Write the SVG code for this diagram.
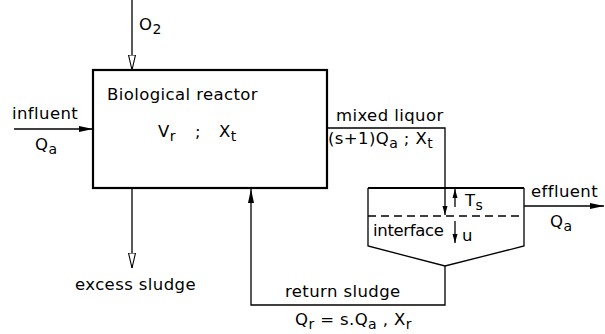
<svg xmlns="http://www.w3.org/2000/svg" width="605" height="334" viewBox="0 0 605 334">
<defs>
<marker id="af" markerWidth="15" markerHeight="8" refX="14" refY="4" orient="auto" markerUnits="userSpaceOnUse">
<path d="M0,1 L14,4 L0,7 Z" fill="#000"/>
</marker>
<marker id="ao" markerWidth="16" markerHeight="9" refX="15" refY="4.5" orient="auto" markerUnits="userSpaceOnUse">
<path d="M0,1 L15,4.5 L0,8 Z" fill="#fff" stroke="#000" stroke-width="1.1"/>
</marker>
<marker id="as" markerWidth="10" markerHeight="6" refX="9" refY="3" orient="auto" markerUnits="userSpaceOnUse">
<path d="M0,0.5 L9,3 L0,5.5 Z" fill="#000"/>
</marker>
</defs>
<style>
text{font-family:"DejaVu Sans","Liberation Sans",sans-serif;font-size:16.5px;letter-spacing:0.4px;fill:#000}
.sub{font-size:14px}
.ln{fill:none;stroke:#000;stroke-width:1.3}
.thick{fill:none;stroke:#000;stroke-width:2.2}
</style>
<g id="reactor">
<rect x="93" y="70" width="234" height="118" class="thick"/>
<text x="107" y="100">Biological reactor</text>
<text x="158" y="137">V<tspan class="sub" dy="4">r</tspan></text>
<text x="195" y="137">;</text>
<text x="219" y="137">X<tspan class="sub" dy="4">t</tspan></text>
</g>
<g id="settler">
<path d="M368,188 L524,188" class="thick"/>
<path d="M368,188 L368,246 L445,266 L524,246 L524,188" class="ln"/>
<path d="M368,216 L524,216" class="ln" stroke-dasharray="8,5"/>
<text x="373" y="236" style="letter-spacing:0" textLength="71">interface</text>
<text x="465" y="206">T<tspan class="sub" dy="4">s</tspan></text>
<text x="462" y="241">u</text>
</g>
<g id="connectors">
<path d="M132,0 L132,70" class="ln" marker-end="url(#ao)"/>
<path d="M14,129 L93,129" class="ln" marker-end="url(#af)"/>
<path d="M327,128 L445,128 L445,215" class="ln" marker-end="url(#as)"/>
<path d="M455,207 L455,189" class="ln" marker-end="url(#as)"/>
<path d="M455,221 L455,243" class="ln" marker-end="url(#as)"/>
<path d="M524,206 L604,206" class="ln" marker-end="url(#af)"/>
<path d="M132,188 L132,268" class="ln" marker-end="url(#ao)"/>
<path d="M445,266 L445,305 L251,305 L251,189" class="ln" marker-end="url(#af)"/>
</g>
<g id="labels">
<text x="139" y="30">O<tspan class="sub" dy="4">2</tspan></text>
<text x="12" y="119">influent</text>
<text x="35" y="150">Q<tspan class="sub" dy="4">a</tspan></text>
<text x="336" y="121">mixed liquor</text>
<text x="328" y="144">(s+1)Q<tspan class="sub" dy="4">a</tspan><tspan dy="-4"> ;  X</tspan><tspan class="sub" dy="4">t</tspan></text>
<text x="531" y="197">effluent</text>
<text x="550" y="227">Q<tspan class="sub" dy="4">a</tspan></text>
<text x="75" y="290">excess  sludge</text>
<text x="285" y="297">return  sludge</text>
<text x="295" y="325">Q<tspan class="sub" dy="4">r</tspan><tspan dy="-4"> = s.Q</tspan><tspan class="sub" dy="4">a</tspan><tspan dy="-4"> , X</tspan><tspan class="sub" dy="4">r</tspan></text>
</g>
</svg>
